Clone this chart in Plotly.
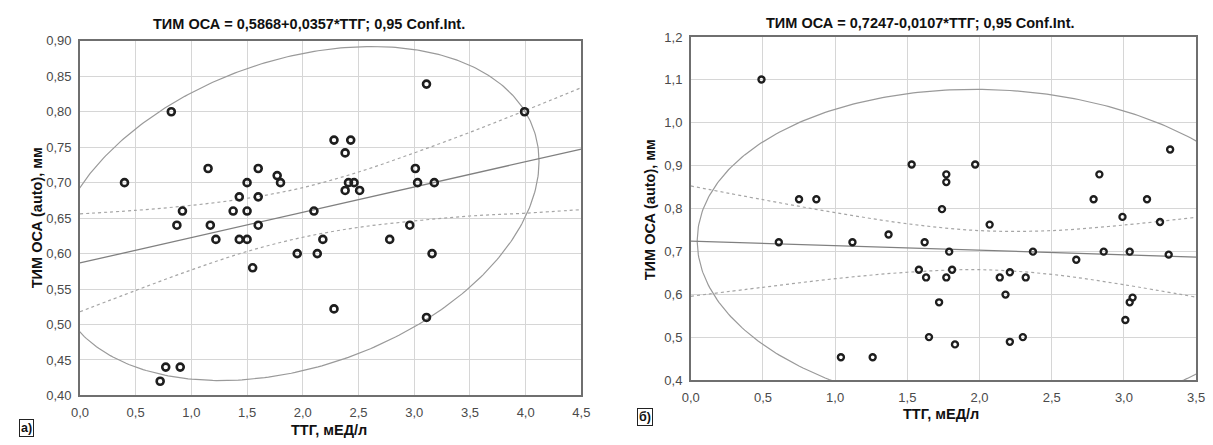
import numpy as np
import plotly.graph_objects as go

W, H = 1213, 445

# ---------------- data ----------------
left_x = [0.40, 0.82, 0.87, 0.92, 0.77, 0.90, 0.72, 1.15, 1.17, 1.22, 1.375, 1.43, 1.43,
          1.50, 1.50, 1.50, 1.55, 1.60, 1.60, 1.60, 1.77, 1.80, 1.95, 2.10, 2.13, 2.18,
          2.28, 2.28, 2.38, 2.38, 2.41, 2.43, 2.46, 2.51, 2.78, 2.96, 3.01, 3.03, 3.11,
          3.11, 3.16, 3.18, 3.99]
left_y = [0.70, 0.80, 0.64, 0.66, 0.44, 0.44, 0.42, 0.72, 0.64, 0.62, 0.66, 0.68, 0.62,
          0.70, 0.66, 0.62, 0.58, 0.72, 0.68, 0.64, 0.71, 0.70, 0.60, 0.66, 0.60, 0.62,
          0.76, 0.522, 0.742, 0.689, 0.70, 0.76, 0.70, 0.689, 0.62, 0.64, 0.72, 0.70, 0.839,
          0.51, 0.60, 0.70, 0.80]

right_x = [0.49, 0.61, 0.75, 0.87, 1.04, 1.26, 1.12, 1.37, 1.53, 1.58, 1.62, 1.63, 1.65,
           1.72, 1.74, 1.77, 1.77, 1.77, 1.79, 1.81, 1.83, 1.97, 2.07, 2.14, 2.18, 2.21,
           2.21, 2.30, 2.32, 2.37, 2.67, 2.79, 2.83, 2.86, 2.99, 3.01, 3.04, 3.06, 3.04,
           3.16, 3.25, 3.31, 3.32]
right_y = [1.101, 0.722, 0.822, 0.822, 0.454, 0.454, 0.722, 0.740, 0.903, 0.658, 0.722,
           0.640, 0.501, 0.582, 0.799, 0.880, 0.862, 0.640, 0.700, 0.658, 0.484, 0.903,
           0.763, 0.640, 0.600, 0.652, 0.490, 0.501, 0.640, 0.700, 0.681, 0.822, 0.880,
           0.700, 0.781, 0.541, 0.582, 0.593, 0.700, 0.822, 0.769, 0.693, 0.938]

# regression coefficients (from the titles)
left_b0, left_b1 = 0.5868, 0.0357
right_b0, right_b1 = 0.7247, -0.0107

# 0.95 confidence bands
left_band_x = [0.0, 0.5, 1.0, 1.5, 2.0, 2.5, 3.0, 3.5, 4.0, 4.5]
left_band_hi = [0.656, 0.661, 0.668, 0.678, 0.693, 0.715, 0.742, 0.771, 0.802, 0.834]
left_band_lo = [0.518, 0.548, 0.577, 0.603, 0.623, 0.637, 0.646, 0.653, 0.657, 0.662]

right_band_x = [0.0, 0.5, 1.0, 1.5, 2.0, 2.5, 3.0, 3.5]
right_band_hi = [0.853, 0.821, 0.791, 0.765, 0.749, 0.749, 0.762, 0.780]
right_band_lo = [0.596, 0.617, 0.637, 0.652, 0.658, 0.647, 0.623, 0.594]

# ellipse parameters: centre, sd_x, sd_y, covariance
left_ell = dict(cx=1.94, cy=0.6565, sx=2.18, sy=0.2355, sxy=0.16)
right_ell = dict(cx=2.09, cy=0.702, sx=2.045, sy=0.376, sxy=-0.047)

# ticks
left_xticks = [0.0, 0.5, 1.0, 1.5, 2.0, 2.5, 3.0, 3.5, 4.0, 4.5]
left_xlabels = ["0,0", "0,5", "1,0", "1,5", "2,0", "2,5", "3,0", "3,5", "4,0", "4,5"]
left_yticks = [0.40, 0.45, 0.50, 0.55, 0.60, 0.65, 0.70, 0.75, 0.80, 0.85, 0.90]
left_ylabels = ["0,40", "0,45", "0,50", "0,55", "0,60", "0,65", "0,70", "0,75", "0,80", "0,85", "0,90"]
right_xticks = [0.0, 0.5, 1.0, 1.5, 2.0, 2.5, 3.0, 3.5]
right_xlabels = ["0,0", "0,5", "1,0", "1,5", "2,0", "2,5", "3,0", "3,5"]
right_yticks = [0.4, 0.5, 0.6, 0.7, 0.8, 0.9, 1.0, 1.1, 1.2]
right_ylabels = ["0,4", "0,5", "0,6", "0,7", "0,8", "0,9", "1,0", "1,1", "1,2"]

left_title = "ТИМ ОСА = 0,5868+0,0357*ТТГ; 0,95 Conf.Int."
right_title = "ТИМ ОСА = 0,7247-0,0107*ТТГ; 0,95 Conf.Int."
x_title = "ТТГ, мЕД/л"
y_title = "ТИМ ОСА (auto), мм"

# ---------------- styling ----------------
TICKFONT = dict(family="Liberation Sans, Arial", size=13, color="#4a4a4a")
BOLD = "Liberation Sans, Arial"
GRID = "#d6d6d6"
CURVE = "#808080"


def ellipse(p, n=400):
    t = np.linspace(0, 2 * np.pi, n)
    l11 = p["sx"]
    l21 = p["sxy"] / p["sx"]
    l22 = np.sqrt(p["sy"] ** 2 - l21 ** 2)
    return p["cx"] + l11 * np.cos(t), p["cy"] + l21 * np.cos(t) + l22 * np.sin(t)


fig = go.Figure()


def add_panel(xs, ys, b0, b1, xmax, bx, bhi, blo, ell, xa, ya, msize, mline):
    ex, ey = ellipse(ell)
    fig.add_trace(go.Scatter(x=ex, y=ey, mode="lines", line=dict(color="#9a9a9a", width=1.2),
                             xaxis=xa, yaxis=ya, hoverinfo="skip"))
    fig.add_trace(go.Scatter(x=bx, y=bhi, mode="lines", line=dict(color="#a6a6a6", width=1.2, dash="dot", shape="spline"),
                             xaxis=xa, yaxis=ya))
    fig.add_trace(go.Scatter(x=bx, y=blo, mode="lines", line=dict(color="#a6a6a6", width=1.2, dash="dot", shape="spline"),
                             xaxis=xa, yaxis=ya))
    fig.add_trace(go.Scatter(x=[0, xmax], y=[b0, b0 + b1 * xmax], mode="lines",
                             line=dict(color=CURVE, width=1.3), xaxis=xa, yaxis=ya))
    fig.add_trace(go.Scatter(x=xs, y=ys, mode="markers", xaxis=xa, yaxis=ya,
                             marker=dict(symbol="circle-open", size=msize, color="#1e1e1e",
                                         line=dict(width=mline, color="#1e1e1e"))))


add_panel(left_x, left_y, left_b0, left_b1, 4.5, left_band_x, left_band_hi, left_band_lo,
          left_ell, "x", "y", 7, 2.6)
add_panel(right_x, right_y, right_b0, right_b1, 3.5, right_band_x, right_band_hi, right_band_lo,
          right_ell, "x2", "y2", 6, 2.4)


def px(x):
    return x / W


def py(y):
    return 1 - y / H


def axis(domain, rng, vals, labels, anchor):
    return dict(domain=domain, range=rng, tickvals=vals, ticktext=labels, anchor=anchor,
                showgrid=True, gridcolor=GRID, gridwidth=1, zeroline=False,
                showline=True, linecolor="#6f6f6f", linewidth=1.5, mirror=True,
                ticks="", tickfont=TICKFONT, ticklabelstandoff=4, fixedrange=True)


fig.update_layout(
    width=W, height=H, margin=dict(l=0, r=0, t=0, b=0),
    paper_bgcolor="white", plot_bgcolor="white", showlegend=False,
    xaxis=axis([px(72), px(581)], [0, 4.5], left_xticks, left_xlabels, "y"),
    yaxis=axis([py(402), py(35)], [0.40, 0.90], left_yticks, left_ylabels, "x"),
    xaxis2=axis([px(692), px(1205)], [0, 3.5], right_xticks, right_xlabels, "y2"),
    yaxis2=axis([py(386.5), py(31)], [0.4, 1.2], right_yticks, right_ylabels, "x2"),
)


def ann(text, x, y, size=14.5, angle=0, **kw):
    d = dict(text=text, x=px(x), y=py(y), xref="paper", yref="paper", showarrow=False,
             textangle=angle, font=dict(family=BOLD, size=size, color="#111"),
             xanchor="center", yanchor="middle")
    d.update(kw)
    fig.add_annotation(**d)


ann("<b>" + left_title + "</b>", 305, 18)
ann("<b>" + right_title + "</b>", 925, 17)
ann("<b>" + y_title + "</b>", 28, 218, angle=-90)
ann("<b>" + y_title + "</b>", 651, 210, angle=-90)
ann("<b>" + x_title + "</b>", 325, 427, yanchor="top")
ann("<b>" + x_title + "</b>", 946, 421)
ann("<b>б)</b>", 645.5, 424.5, size=12.5, bordercolor="#222", borderwidth=1, borderpad=1)
ann("<b>а)</b>", 18, 426, size=12.5, bordercolor="#222", borderwidth=1, borderpad=1, yanchor="top")

fig.write_html("out.html")
